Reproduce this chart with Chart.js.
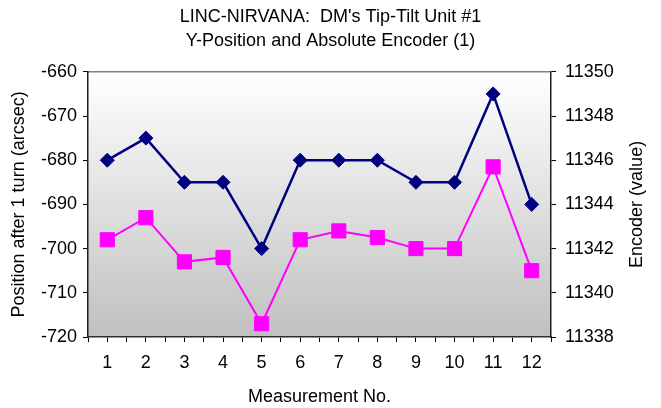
<!DOCTYPE html>
<html>
<head>
<meta charset="utf-8">
<script src="https://cdn.jsdelivr.net/npm/chart.js@4/dist/chart.umd.min.js"></script>
<style>
  html, body { margin: 0; padding: 0; background: #ffffff; }
  #wrap { width: 661px; height: 408px; }
</style>
</head>
<body>
<div id="wrap"><canvas id="c" width="661" height="408"></canvas></div>
<script>
// Measurement numbers along the x axis
const measurements = [1, 2, 3, 4, 5, 6, 7, 8, 9, 10, 11, 12];
// Y-position after one turn, arcsec (left axis)
const positionArcsec = [-680, -675, -685, -685, -700, -680, -680, -680, -685, -685, -665, -690];
// Absolute encoder reading (right axis)
const encoderValue = [11342.4, 11343.4, 11341.4, 11341.6, 11338.6, 11342.4, 11342.8, 11342.5, 11342.0, 11342.0, 11345.7, 11341.0];

const titleLines = ["LINC-NIRVANA:  DM's Tip-Tilt Unit #1", "Y-Position and Absolute Encoder (1)"];
const rightAxisTitle = 'Encoder (value)';

const FONT = "'Liberation Sans', Arial, sans-serif";

// Plot-area fill: white at the top fading to grey at the bottom, grey top frame line
const plotBackground = {
  id: 'plotBackground',
  beforeDraw(chart) {
    const { ctx, chartArea: a } = chart;
    const g = ctx.createLinearGradient(0, a.top, 0, a.bottom);
    g.addColorStop(0, '#ffffff');
    g.addColorStop(1, '#c0c0c0');
    ctx.save();
    ctx.fillStyle = g;
    ctx.fillRect(a.left, a.top, a.right - a.left, a.bottom - a.top);
    ctx.strokeStyle = '#808080';
    ctx.lineWidth = 1.5;
    ctx.beginPath();
    ctx.moveTo(a.left, a.top);
    ctx.lineTo(a.right, a.top);
    ctx.stroke();
    ctx.restore();
  }
};

// Right-hand axis title, reading bottom-to-top like the left one
const rightTitle = {
  id: 'rightTitle',
  afterDraw(chart) {
    const { ctx, chartArea: a } = chart;
    const s = chart.scales.y1;
    ctx.save();
    ctx.translate(s.right - 24.3, (a.top + a.bottom) / 2);
    ctx.rotate(-Math.PI / 2);
    ctx.fillStyle = '#000000';
    ctx.font = '18px ' + FONT;
    ctx.textAlign = 'center';
    ctx.textBaseline = 'middle';
    ctx.fillText(rightAxisTitle, 0, 0);
    ctx.restore();
  }
};

const toPoints = (ys) => measurements.map((m, i) => ({ x: m, y: ys[i] }));

new Chart(document.getElementById('c'), {
  type: 'line',
  data: {
    datasets: [
      {
        label: 'Position after 1 turn (arcsec)',
        data: toPoints(positionArcsec),
        yAxisID: 'y',
        borderColor: '#000080',
        backgroundColor: '#000080',
        borderWidth: 2.5,
        pointStyle: 'rectRot',
        pointRadius: 7,
        pointBorderWidth: 1,
        pointBackgroundColor: '#000080',
        pointBorderColor: '#000080',
        tension: 0,
        order: 1
      },
      {
        label: rightAxisTitle,
        data: toPoints(encoderValue),
        yAxisID: 'y1',
        borderColor: '#ff00ff',
        backgroundColor: '#ff00ff',
        borderWidth: 2,
        pointStyle: 'rect',
        pointRadius: 10,
        pointBorderWidth: 1,
        pointBackgroundColor: '#ff00ff',
        pointBorderColor: '#ff00ff',
        tension: 0,
        order: 2
      }
    ]
  },
  options: {
    responsive: false,
    animation: false,
    layout: { padding: 0 },
    plugins: {
      legend: { display: false },
      tooltip: { enabled: false },
      title: {
        display: true,
        text: titleLines,
        color: '#000000',
        font: { family: FONT, size: 18, weight: 'normal', lineHeight: 1.3 },
        padding: { top: 5.75, bottom: 19.25 }
      }
    },
    scales: {
      x: {
        type: 'linear',
        min: 0.5,
        max: 12.5,
        afterFit(scale) { scale.height = 71; },
        ticks: {
          stepSize: 0.5,
          autoSkip: false,
          maxRotation: 0,
          minRotation: 0,
          padding: 10,
          color: '#000000',
          font: { family: FONT, size: 18 },
          callback: (v) => Number.isInteger(v) && measurements.includes(v) ? String(v) : ''
        },
        grid: { drawOnChartArea: false, tickLength: 5, color: '#000000', lineWidth: 1 },
        border: { display: true, color: '#303030', width: 1.5 },
        title: {
          display: true,
          text: 'Measurement No.',
          color: '#000000',
          font: { family: FONT, size: 18 },
          padding: { top: 0, bottom: 0.5 }
        }
      },
      y: {
        position: 'left',
        min: -720,
        max: -660,
        afterFit(scale) { scale.width = 88; },
        ticks: {
          stepSize: 10,
          padding: 6,
          color: '#000000',
          font: { family: FONT, size: 18 }
        },
        grid: { drawOnChartArea: false, tickLength: 5, color: '#000000', lineWidth: 1 },
        border: { display: true, color: '#202020', width: 1.5 },
        title: {
          display: true,
          text: 'Position after 1 turn (arcsec)',
          color: '#000000',
          font: { family: FONT, size: 18 },
          padding: { top: 8, bottom: 0 }
        }
      },
      y1: {
        position: 'right',
        min: 11338,
        max: 11350,
        afterFit(scale) { scale.width = 110; },
        ticks: {
          stepSize: 2,
          padding: 9,
          color: '#000000',
          font: { family: FONT, size: 18 },
          callback: (v) => String(v)
        },
        grid: { drawOnChartArea: false, tickLength: 5, color: '#000000', lineWidth: 1 },
        border: { display: true, color: '#202020', width: 1.5 },
        title: { display: false }
      }
    }
  },
  plugins: [plotBackground, rightTitle]
});
</script>
</body>
</html>
